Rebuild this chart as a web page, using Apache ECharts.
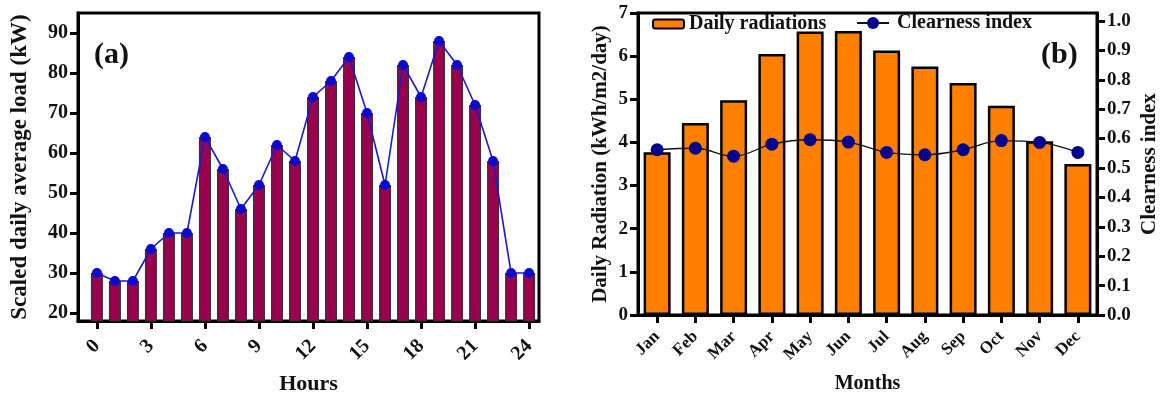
<!DOCTYPE html>
<html><head><meta charset="utf-8">
<script src="https://cdn.jsdelivr.net/npm/echarts@6/dist/echarts.min.js"></script>
<style>html,body{margin:0;padding:0;background:#fff}#c{width:1160px;height:394px}</style>
</head><body><div id="c"></div>
<script>
const hours = [0,1,2,3,4,5,6,7,8,9,10,11,12,13,14,15,16,17,18,19,20,21,22,23,24];
const loadKW = [30,28,28,36,40,40,64,56,46,52,62,58,74,78,84,70,52,82,74,88,82,72,58,30,30];
const hourTicks = [0,3,6,9,12,15,18,21,24];
const loadTicks = [20,30,40,50,60,70,80,90];
const months = ['Jan','Feb','Mar','Apr','May','Jun','Jul','Aug','Sep','Oct','Nov','Dec'];
const radiation = [3.77,4.45,4.98,6.05,6.57,6.58,6.13,5.76,5.38,4.85,4.03,3.50];
const clearness = [0.562,0.567,0.540,0.581,0.596,0.588,0.553,0.545,0.562,0.593,0.587,0.553];
const ciTicks = [0,0.1,0.2,0.3,0.4,0.5,0.6,0.7,0.8,0.9,1.0];

const F = '"Liberation Serif","Times New Roman",serif';
const lab = {fontFamily:F,fontWeight:'bold',fontSize:19,color:'#111'};
const nm = s => ({fontFamily:F,fontWeight:'bold',fontSize:s,color:'#111'});
const axL = {show:true,onZero:false,lineStyle:{color:'#000',width:3}};
const tk = {show:true,length:8,inside:false,lineStyle:{color:'#000',width:3}};

const chart = echarts.init(document.getElementById('c'));
chart.setOption({
  animation:false,
  grid:[
    {left:78,top:13,width:461,height:308,show:true,borderColor:'#000',borderWidth:3,containLabel:false,outerBoundsMode:'none'},
    {left:638,top:13,width:459,height:302,show:true,borderColor:'#000',borderWidth:3,containLabel:false,outerBoundsMode:'none'}
  ],
  legend:[
    {left:647,top:9,itemWidth:31,itemHeight:9,
     textStyle:{fontFamily:F,fontWeight:'bold',fontSize:20,color:'#111'},
     data:['Daily radiations']},
    {left:851,top:8,itemWidth:32,itemHeight:15,
     textStyle:{fontFamily:F,fontWeight:'bold',fontSize:20,color:'#111',padding:[0,0,0,3]},
     data:['Clearness index']}
  ],
  xAxis:[
    {type:'value',gridIndex:0,min:-1.05,max:24.55,splitLine:{show:false},
     axisLine:axL,axisTick:Object.assign({},tk,{customValues:hourTicks}),
     axisLabel:Object.assign({},lab,{fontSize:20,rotate:45,margin:22,customValues:hourTicks}),
     name:'Hours',nameLocation:'middle',nameGap:52,nameTextStyle:nm(22)},
    {type:'category',gridIndex:1,data:months,boundaryGap:true,
     axisLine:axL,axisTick:Object.assign({},tk,{alignWithLabel:true}),
     axisLabel:Object.assign({},lab,{fontSize:17,rotate:45,margin:19,interval:0}),
     name:'Months',nameLocation:'middle',nameGap:59,nameTextStyle:nm(20)}
  ],
  yAxis:[
    {type:'value',gridIndex:0,min:18,max:95,splitLine:{show:false},
     axisLine:axL,axisTick:Object.assign({},tk,{customValues:loadTicks}),
     axisLabel:Object.assign({},lab,{fontSize:20,margin:10,customValues:loadTicks}),
     name:'Scaled daily average load (kW)',nameLocation:'middle',nameGap:46,nameTextStyle:nm(23)},
    {type:'value',gridIndex:1,min:0,max:7,interval:1,splitLine:{show:false},
     axisLine:axL,axisTick:tk,
     axisLabel:Object.assign({},lab,{fontSize:19,margin:10}),
     name:'Daily Radiation (kWh/m2/day)',nameLocation:'middle',nameGap:27,nameTextStyle:nm(21)},
    {type:'value',gridIndex:1,position:'right',min:0,max:1.027,splitLine:{show:false},
     axisLine:axL,axisTick:Object.assign({},tk,{customValues:ciTicks}),
     axisLabel:Object.assign({},lab,{fontSize:19,margin:10,customValues:ciTicks,formatter:v=>v.toFixed(1)}),
     name:'Clearness index',nameLocation:'middle',nameGap:42,nameRotate:90,nameTextStyle:nm(21)}
  ],
  series:[
    {type:'bar',xAxisIndex:0,yAxisIndex:0,barWidth:12,
     data:hours.map((h,i)=>[h,loadKW[i]]),
     itemStyle:{color:'#99004d',borderColor:'#333',borderWidth:1.2}},
    {type:'line',xAxisIndex:0,yAxisIndex:0,
     data:hours.map((h,i)=>[h,loadKW[i]]),
     symbol:'circle',symbolSize:10,lineStyle:{color:'#1a1acc',width:1.6},
     itemStyle:{color:'#0a0acc'}},
    {name:'Daily radiations',type:'bar',xAxisIndex:1,yAxisIndex:1,barWidth:27,
     data:radiation,itemStyle:{color:'#ff8000',borderColor:'#000',borderWidth:2.5}},
    {name:'Clearness index',type:'line',xAxisIndex:1,yAxisIndex:2,smooth:0.4,
     data:clearness,symbol:'circle',symbolSize:13,
     lineStyle:{color:'#111',width:1.3},itemStyle:{color:'#00008b'}}
  ],
  graphic:[
    {type:'text',left:94,top:40,style:{text:'(a)',font:'bold 30px '+F,fill:'#111'}},
    {type:'text',left:1041,top:40,style:{text:'(b)',font:'bold 30px '+F,fill:'#111'}}
  ]
});
</script></body></html>
